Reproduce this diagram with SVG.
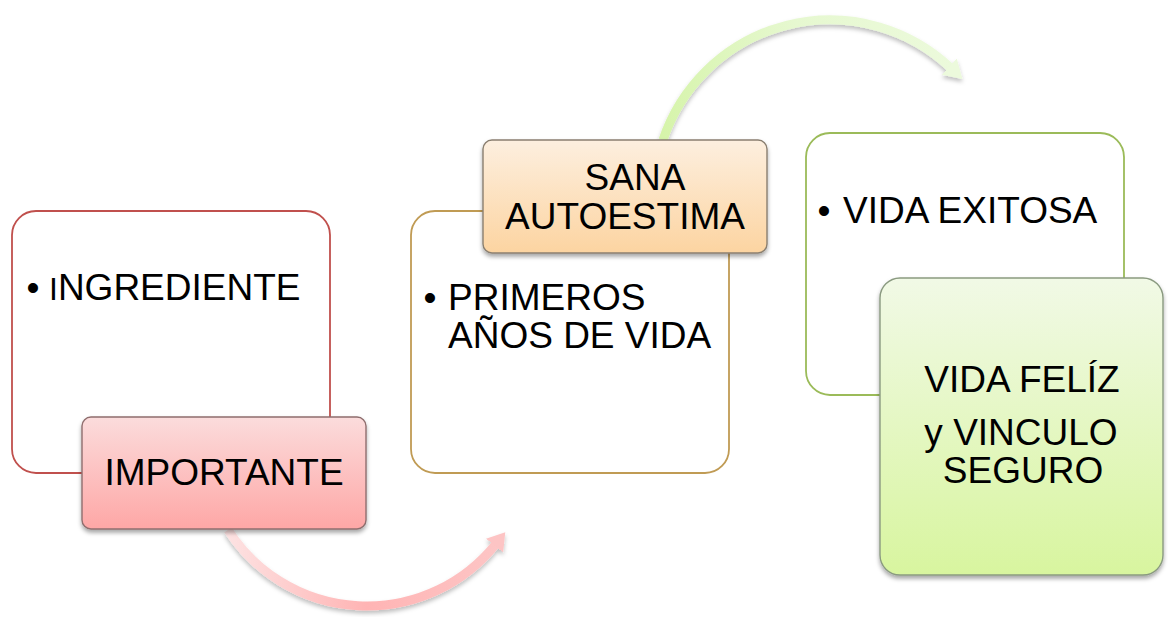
<svg xmlns="http://www.w3.org/2000/svg" width="1168" height="617" viewBox="0 0 1168 617">
<style>
.txt{font-family:"Liberation Sans",Arial,sans-serif;font-size:37px;fill:#000}
.outer{fill:#fff;stroke-width:1.8}
.top{stroke-width:1.4;filter:url(#sh)}
.conn{fill:none;stroke-width:9;filter:url(#ash)}
</style>
<defs>
<filter id="sh" x="-10%" y="-10%" width="120%" height="130%">
<feDropShadow dx="0" dy="3" stdDeviation="2" flood-color="#000" flood-opacity="0.35"/>
</filter>
<filter id="ash" x="-10%" y="-10%" width="120%" height="130%">
<feDropShadow dx="0" dy="3" stdDeviation="2" flood-color="#000" flood-opacity="0.25"/>
</filter>
<linearGradient id="gPink" x1="0" y1="0" x2="0" y2="1">
<stop offset="0" stop-color="#fbdcdc"/><stop offset="1" stop-color="#fea7a6"/>
</linearGradient>
<linearGradient id="gOrange" x1="0" y1="0" x2="0" y2="1">
<stop offset="0" stop-color="#fdefdf"/><stop offset="1" stop-color="#fcd4a1"/>
</linearGradient>
<linearGradient id="gGreen" x1="0" y1="0" x2="0" y2="1">
<stop offset="0" stop-color="#f1f9e6"/><stop offset="1" stop-color="#d8f59f"/>
</linearGradient>
<linearGradient id="aPink" gradientUnits="userSpaceOnUse" x1="228" y1="530" x2="505" y2="530">
<stop offset="0" stop-color="#fde2e2"/><stop offset="0.5" stop-color="#ffb4b4"/><stop offset="1" stop-color="#fdc6c6"/>
</linearGradient>
<linearGradient id="aGreen" gradientUnits="userSpaceOnUse" x1="663" y1="140" x2="965" y2="70">
<stop offset="0" stop-color="#d6f4aa"/><stop offset="0.5" stop-color="#e6f8d0"/><stop offset="1" stop-color="#ecfadc"/>
</linearGradient>
<marker id="mPink" markerUnits="userSpaceOnUse" markerWidth="24" markerHeight="26" refX="1" refY="12" orient="auto">
<path d="M0,1 L17,12 L0,23 Z" fill="#fdc4c4"/>
</marker>
<marker id="mGreen" markerUnits="userSpaceOnUse" markerWidth="24" markerHeight="26" refX="1" refY="12" orient="auto">
<path d="M0,1 L18,12 L0,23 Z" fill="#ecfadc"/>
</marker>
</defs>

<g id="connectors">
<path class="conn" stroke="url(#aPink)" d="M228,530 A165,165 0 0 0 495.2,544.8" marker-end="url(#mPink)"/>
<path class="conn" stroke="url(#aGreen)" d="M663,140 A176,176 0 0 1 950,67.3" marker-end="url(#mGreen)"/>
</g>

<g id="node-ingrediente">
<rect class="outer" x="12" y="211" width="318" height="262" rx="24" stroke="#c0504d"/>
<text class="txt" x="33" y="300" text-anchor="middle">•</text>
<text class="txt" x="49" y="300"><tspan font-size="32">I</tspan>NGREDIENTE</text>
</g>
<g id="node-importante">
<rect class="top" x="82" y="417" width="284" height="112" rx="9" fill="url(#gPink)" stroke="#8f6e6e"/>
<text class="txt" x="224" y="485" text-anchor="middle">IMPORTANTE</text>
</g>

<g id="node-primeros">
<rect class="outer" x="411" y="211" width="318" height="262" rx="24" stroke="#c09b54"/>
<text class="txt" x="430" y="310" text-anchor="middle">•</text>
<text class="txt" x="448" y="310">PRIMEROS</text>
<text class="txt" x="448" y="348">AÑOS DE VIDA</text>
</g>
<g id="node-autoestima">
<rect class="top" x="483" y="140" width="284" height="113" rx="9" fill="url(#gOrange)" stroke="#8a7f70"/>
<text class="txt" x="635" y="190" text-anchor="middle">SANA</text>
<text class="txt" x="625" y="229" text-anchor="middle">AUTOESTIMA</text>
</g>

<g id="node-exitosa">
<rect class="outer" x="806" y="133" width="318" height="262" rx="24" stroke="#9bbb59"/>
<text class="txt" x="824" y="223" text-anchor="middle">•</text>
<text class="txt" x="843" y="223">VIDA EXITOSA</text>
</g>
<g id="node-feliz">
<rect class="top" x="880" y="278" width="283" height="297" rx="20" fill="url(#gGreen)" stroke="#8a9a80"/>
<text class="txt" x="1022" y="392" text-anchor="middle">VIDA FELÍZ</text>
<text class="txt" x="1021" y="445" text-anchor="middle">y VINCULO</text>
<text class="txt" x="1023" y="483" text-anchor="middle">SEGURO</text>
</g>
</svg>
